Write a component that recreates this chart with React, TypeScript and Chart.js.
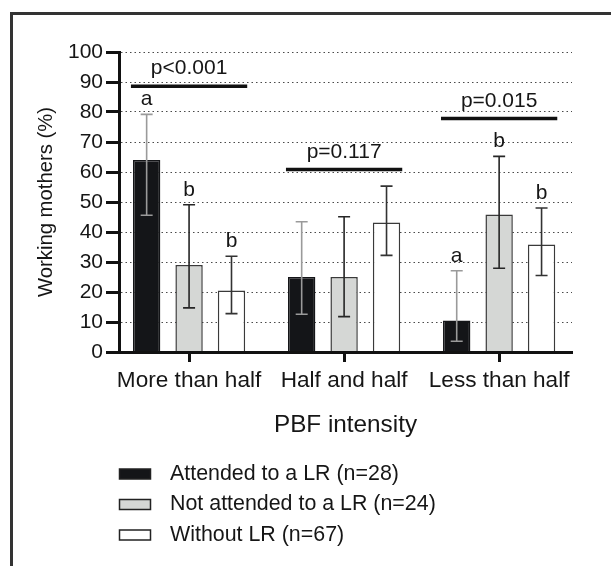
import React, { useEffect, useRef } from 'react';
import { Chart, registerables } from 'chart.js';

Chart.register(...registerables);

// ---------- data ----------
const categories = ['More than half', 'Half and half', 'Less than half'];
const seriesLabels = ['Attended to a LR (n=28)', 'Not attended to a LR (n=24)', 'Without LR (n=67)'];

const attendedValues = [64, 25, 10.5];
const attendedLow = [45.6, 12.6, 3.6];
const attendedHigh = [79.2, 43.4, 27.1];
const attendedLetters = ['a', '', 'a'];

const notAttendedValues = [29, 25, 45.8];
const notAttendedLow = [14.7, 11.8, 27.9];
const notAttendedHigh = [49.1, 45.1, 65.2];
const notAttendedLetters = ['b', '', 'b'];

const withoutValues = [20.5, 43.2, 35.8];
const withoutLow = [12.8, 32.2, 25.5];
const withoutHigh = [31.9, 55.3, 48.0];
const withoutLetters = ['b', '', 'b'];

const pValueLabels = ['p<0.001', 'p=0.117', 'p=0.015'];
const pLineLevels = [88.6, 60.8, 77.8];

const yTickValues = [0, 10, 20, 30, 40, 50, 60, 70, 80, 90, 100];

// ---------- styles ----------
const FONT = '"Liberation Sans", Arial, Helvetica, sans-serif';
const TEXT = '#161616';

const toPoints = (vals: number[]) => vals.map((v, i) => ({ x: i, y: v }));

const framePlugin = {
  id: 'frame',
  beforeDraw(chart: any) {
    const ctx = chart.ctx;
    ctx.save();
    ctx.fillStyle = '#ffffff';
    ctx.fillRect(0, 0, chart.width, chart.height);
    ctx.strokeStyle = '#333333';
    ctx.lineWidth = 3;
    ctx.strokeRect(11.5, 13.5, 800, 800);
    ctx.restore();
  },
};

const annotationPlugin = {
  id: 'annotations',
  afterDatasetsDraw(chart: any) {
    const ctx = chart.ctx;
    const ys = chart.scales.y;
    const xs = chart.scales.x;
    ctx.save();
    chart.data.datasets.forEach((ds: any, di: number) => {
      const meta = chart.getDatasetMeta(di);
      meta.data.forEach((bar: any, i: number) => {
        const x = bar.x;
        const yl = ys.getPixelForValue(ds.errLow[i]);
        const yh = ys.getPixelForValue(ds.errHigh[i]);
        ctx.strokeStyle = ds.errorColor;
        ctx.lineWidth = 1.6;
        ctx.beginPath();
        ctx.moveTo(x, yl);
        ctx.lineTo(x, yh);
        ctx.moveTo(x - 6, yl);
        ctx.lineTo(x + 6, yl);
        ctx.moveTo(x - 6, yh);
        ctx.lineTo(x + 6, yh);
        ctx.stroke();
        const letter = ds.letters[i];
        if (letter) {
          ctx.fillStyle = TEXT;
          ctx.font = `21px ${FONT}`;
          ctx.textAlign = 'center';
          ctx.textBaseline = 'alphabetic';
          ctx.fillText(letter, x, yh - 9);
        }
      });
    });
    pValueLabels.forEach((label, i) => {
      const x1 = xs.getPixelForValue(i - 0.375);
      const x2 = xs.getPixelForValue(i + 0.375);
      const yy = ys.getPixelForValue(pLineLevels[i]);
      ctx.strokeStyle = '#111111';
      ctx.lineWidth = 3.5;
      ctx.beginPath();
      ctx.moveTo(x1, yy);
      ctx.lineTo(x2, yy);
      ctx.stroke();
      ctx.fillStyle = TEXT;
      ctx.font = `21px ${FONT}`;
      ctx.textAlign = 'center';
      ctx.textBaseline = 'alphabetic';
      ctx.fillText(label, (x1 + x2) / 2, yy - 12);
    });
    ctx.restore();
  },
};

const legendPlugin = {
  id: 'customLegend',
  afterDraw(chart: any) {
    const ctx = chart.ctx;
    ctx.save();
    chart.data.datasets.forEach((ds: any, k: number) => {
      const cy = 474 + k * 30.5;
      ctx.fillStyle = ds.backgroundColor;
      ctx.fillRect(119.5, cy - 5, 31, 10);
      ctx.strokeStyle = '#222222';
      ctx.lineWidth = 1.5;
      ctx.strokeRect(119.5, cy - 5, 31, 10);
      ctx.fillStyle = TEXT;
      ctx.font = `21.4px ${FONT}`;
      ctx.textAlign = 'left';
      ctx.textBaseline = 'middle';
      ctx.fillText(ds.label, 170, cy);
    });
    ctx.restore();
  },
};

export default function App() {
  const canvasRef = useRef<HTMLCanvasElement | null>(null);

  useEffect(() => {
    if (!canvasRef.current) return;
    const chart = new Chart(canvasRef.current, {
      type: 'bar',
      data: {
        datasets: [
          {
            label: seriesLabels[0],
            data: toPoints(attendedValues),
            backgroundColor: '#141518',
            borderColor: '#141518',
            borderWidth: 1.5,
            errLow: attendedLow,
            errHigh: attendedHigh,
            letters: attendedLetters,
            errorColor: '#9a9a9a',
          } as any,
          {
            label: seriesLabels[1],
            data: toPoints(notAttendedValues),
            backgroundColor: '#d5d7d5',
            borderColor: '#3a3a3a',
            borderWidth: 1.5,
            errLow: notAttendedLow,
            errHigh: notAttendedHigh,
            letters: notAttendedLetters,
            errorColor: '#262626',
          } as any,
          {
            label: seriesLabels[2],
            data: toPoints(withoutValues),
            backgroundColor: '#ffffff',
            borderColor: '#3a3a3a',
            borderWidth: 1.5,
            errLow: withoutLow,
            errHigh: withoutHigh,
            letters: withoutLetters,
            errorColor: '#333333',
          } as any,
        ],
      },
      options: {
        responsive: false,
        animation: false,
        devicePixelRatio: 1,
        categoryPercentage: 0.821,
        barPercentage: 0.645,
        layout: { padding: { left: 0, top: 52, right: 39, bottom: 0 } },
        plugins: {
          legend: { display: false },
          tooltip: { enabled: false },
        },
        scales: {
          x: {
            type: 'linear',
            min: -0.452,
            max: 2.47,
            bounds: 'data',
            offset: false,
            afterFit: (s: any) => {
              s.height = 214;
            },
            afterBuildTicks: (s: any) => {
              s.ticks = categories.map((_, i) => ({ value: i }));
            },
            ticks: {
              autoSkip: false,
              maxRotation: 0,
              padding: 5,
              color: TEXT,
              font: { family: FONT, size: 22.6 },
              callback: (v: any) => categories[Math.round(Number(v))],
            },
            grid: {
              offset: false,
              drawOnChartArea: false,
              tickLength: 10,
              tickWidth: 3,
              tickColor: '#111111',
            },
            border: { display: true, color: '#111111', width: 3, z: 1 },
            title: {
              display: true,
              text: 'PBF intensity',
              color: TEXT,
              font: { family: FONT, size: 24.3 },
              padding: { top: 0, bottom: 126 },
            },
          },
          y: {
            type: 'linear',
            min: 0,
            max: 100,
            afterFit: (s: any) => {
              s.width = 119;
            },
            afterBuildTicks: (s: any) => {
              s.ticks = yTickValues.map((v) => ({ value: v }));
            },
            ticks: {
              padding: 3,
              color: TEXT,
              font: { family: FONT, size: 21 },
            },
            grid: {
              color: '#4a4a4a',
              lineWidth: 1,
              tickLength: 13,
              tickWidth: 3,
              tickColor: '#111111',
              z: -1,
            },
            border: { display: true, color: '#111111', width: 3, dash: [1.5, 3], z: 1 },
            title: {
              display: true,
              text: 'Working mothers (%)',
              color: TEXT,
              font: { family: FONT, size: 20.3 },
              padding: { top: 34, bottom: 0 },
            },
          },
        },
      } as any,
      plugins: [framePlugin, annotationPlugin, legendPlugin],
    });
    return () => chart.destroy();
  }, []);

  return (
    <div style={{ position: 'absolute', left: 0, top: 0, width: 611, height: 566 }}>
      <canvas ref={canvasRef} width={611} height={566} style={{ display: 'block' }} />
    </div>
  );
}
